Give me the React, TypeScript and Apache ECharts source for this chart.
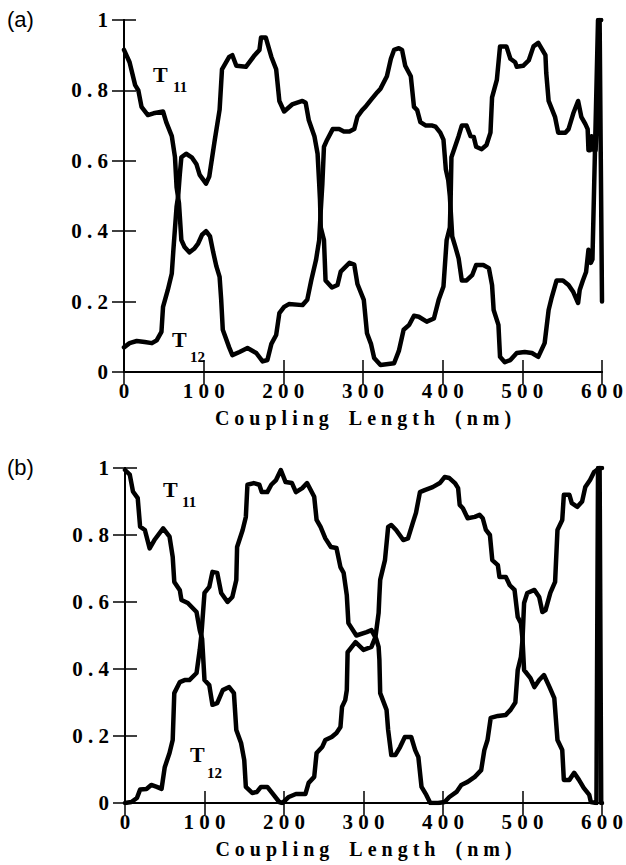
import React, { useEffect, useRef } from "react";
import * as echarts from "echarts";

// ---------- data ----------
const xTicks = [0, 100, 200, 300, 400, 500, 600];
const yTicks = [0, 0.2, 0.4, 0.6, 0.8, 1];
const axisTitle = "Coupling Length (nm)";
const panelLabels = ["(a)", "(b)"];

// Panel (a) T11
const aT11X = [0, 7, 14, 18, 22, 30, 37, 49, 53, 60, 64, 66, 69, 72, 76, 82, 88, 93, 98, 103, 108, 112, 116, 120, 122, 124, 132, 136, 145, 155, 166, 174, 180, 185, 191, 195, 201, 207, 224, 230, 235, 241, 245, 247, 249, 251, 255, 262, 270, 276, 283, 289, 293, 299, 303, 310, 318, 322, 330, 335, 339, 345, 349, 353, 360, 364, 368, 372, 379, 387, 391, 397, 401, 404, 407, 409, 412, 416, 420, 424, 430, 437, 442, 451, 458, 462, 464, 470, 472, 478, 485, 493, 503, 512, 520, 528, 533, 537, 543, 551, 558, 564, 570, 572, 576, 580, 583, 586, 588, 595, 599];
const aT11Y = [0.915, 0.88, 0.815, 0.8, 0.753, 0.73, 0.735, 0.74, 0.71, 0.67, 0.61, 0.525, 0.48, 0.375, 0.355, 0.34, 0.35, 0.365, 0.39, 0.4, 0.385, 0.34, 0.3, 0.27, 0.205, 0.12, 0.07, 0.048, 0.057, 0.068, 0.054, 0.03, 0.034, 0.08, 0.105, 0.167, 0.185, 0.193, 0.19, 0.205, 0.26, 0.318, 0.375, 0.46, 0.535, 0.64, 0.66, 0.69, 0.69, 0.683, 0.683, 0.69, 0.725, 0.744, 0.753, 0.773, 0.795, 0.805, 0.84, 0.89, 0.915, 0.92, 0.915, 0.87, 0.84, 0.753, 0.744, 0.71, 0.7, 0.7, 0.697, 0.68, 0.66, 0.575, 0.545, 0.5, 0.385, 0.355, 0.323, 0.26, 0.26, 0.275, 0.304, 0.304, 0.295, 0.247, 0.176, 0.134, 0.043, 0.028, 0.034, 0.054, 0.057, 0.054, 0.043, 0.082, 0.176, 0.213, 0.26, 0.26, 0.247, 0.227, 0.196, 0.233, 0.26, 0.284, 0.347, 0.31, 0.32, 1.0, 1.0];

// Panel (a) T12
const aT12X = [0, 7, 16, 26, 35, 41, 47, 49, 55, 60, 62, 66, 68, 70, 72, 78, 85, 91, 95, 103, 107, 114, 120, 123, 132, 136, 141, 153, 164, 170, 172, 178, 185, 191, 195, 201, 211, 224, 228, 232, 239, 243, 245, 246, 247, 251, 253, 261, 268, 272, 283, 289, 293, 301, 305, 310, 314, 322, 339, 345, 351, 358, 364, 370, 380, 389, 395, 401, 405, 409, 410, 411, 420, 424, 430, 435, 439, 442, 449, 455, 460, 462, 468, 472, 480, 485, 491, 493, 501, 508, 514, 520, 529, 530, 533, 541, 545, 554, 558, 564, 570, 574, 579, 582, 583, 585, 587, 590, 592, 597, 600];
const aT12Y = [0.07, 0.082, 0.088, 0.085, 0.082, 0.09, 0.114, 0.185, 0.233, 0.28, 0.347, 0.47, 0.5, 0.56, 0.61, 0.62, 0.61, 0.59, 0.56, 0.535, 0.555, 0.66, 0.745, 0.86, 0.895, 0.9, 0.87, 0.867, 0.9, 0.915, 0.95, 0.95, 0.895, 0.86, 0.77, 0.74, 0.76, 0.77, 0.765, 0.715, 0.67, 0.62, 0.535, 0.49, 0.41, 0.375, 0.26, 0.24, 0.247, 0.285, 0.31, 0.305, 0.25, 0.205, 0.11, 0.08, 0.04, 0.02, 0.025, 0.06, 0.12, 0.134, 0.16, 0.157, 0.143, 0.152, 0.205, 0.243, 0.375, 0.41, 0.49, 0.61, 0.67, 0.7, 0.7, 0.67, 0.668, 0.64, 0.633, 0.645, 0.68, 0.78, 0.83, 0.925, 0.925, 0.89, 0.88, 0.867, 0.87, 0.885, 0.925, 0.935, 0.9, 0.85, 0.77, 0.725, 0.68, 0.68, 0.69, 0.735, 0.77, 0.725, 0.705, 0.69, 0.63, 0.63, 0.67, 0.63, 0.63, 1.0, 0.2];

// Panel (b) T11
const bT11X = [0, 6, 10, 16, 19, 25, 31, 37, 48, 56, 60, 62, 69, 71, 79, 90, 94, 97, 100, 106, 110, 116, 123, 131, 137, 140, 146, 150, 152, 160, 166, 171, 179, 185, 194, 198, 206, 215, 227, 231, 238, 241, 248, 252, 260, 266, 271, 273, 277, 279, 280, 290, 300, 310, 315, 319, 320, 321, 327, 331, 335, 341, 350, 356, 362, 366, 371, 377, 387, 396, 402, 408, 415, 419, 421, 425, 431, 440, 446, 450, 454, 459, 462, 469, 471, 479, 484, 490, 494, 498, 500, 502, 510, 515, 521, 527, 534, 540, 544, 550, 552, 559, 565, 571, 577, 584, 586, 593, 595, 600];
const bT11Y = [0.994, 0.98, 0.93, 0.91, 0.825, 0.815, 0.76, 0.785, 0.82, 0.795, 0.735, 0.66, 0.635, 0.606, 0.597, 0.57, 0.516, 0.49, 0.367, 0.352, 0.293, 0.298, 0.337, 0.346, 0.328, 0.218, 0.179, 0.128, 0.048, 0.03, 0.033, 0.048, 0.048, 0.03, 0.003, 0.0, 0.018, 0.027, 0.027, 0.06, 0.078, 0.149, 0.167, 0.188, 0.197, 0.209, 0.227, 0.287, 0.307, 0.337, 0.45, 0.48, 0.457, 0.466, 0.495, 0.567, 0.62, 0.666, 0.725, 0.824, 0.83, 0.815, 0.785, 0.79, 0.836, 0.866, 0.928, 0.934, 0.943, 0.955, 0.973, 0.97, 0.955, 0.94, 0.89, 0.88, 0.85, 0.854, 0.86, 0.85, 0.815, 0.8, 0.725, 0.71, 0.675, 0.675, 0.65, 0.636, 0.555, 0.537, 0.49, 0.397, 0.373, 0.346, 0.367, 0.382, 0.346, 0.313, 0.188, 0.158, 0.069, 0.069, 0.09, 0.069, 0.045, 0.024, 0.003, 0.0, 1.0, 1.0];

// Panel (b) T12
const bT12X = [0, 8, 15, 19, 27, 33, 40, 46, 50, 56, 60, 62, 69, 75, 81, 90, 94, 96, 100, 106, 110, 116, 121, 129, 135, 140, 141, 148, 152, 154, 162, 169, 172, 179, 184, 190, 196, 202, 210, 215, 223, 229, 238, 241, 246, 252, 259, 266, 271, 275, 279, 281, 291, 304, 310, 316, 319, 320, 321, 329, 331, 335, 340, 346, 352, 360, 365, 369, 373, 379, 384, 394, 402, 408, 417, 423, 431, 440, 448, 452, 456, 460, 469, 479, 485, 491, 494, 498, 500, 502, 506, 515, 521, 525, 529, 535, 541, 544, 550, 552, 559, 562, 569, 575, 579, 585, 590, 597, 599, 600];
const bT12Y = [0.0, 0.003, 0.015, 0.04, 0.042, 0.054, 0.048, 0.042, 0.107, 0.149, 0.188, 0.328, 0.361, 0.367, 0.367, 0.388, 0.457, 0.5, 0.627, 0.645, 0.69, 0.687, 0.627, 0.6, 0.615, 0.666, 0.764, 0.815, 0.854, 0.95, 0.955, 0.95, 0.928, 0.928, 0.95, 0.964, 0.994, 0.958, 0.955, 0.928, 0.94, 0.955, 0.914, 0.845, 0.824, 0.79, 0.764, 0.761, 0.704, 0.687, 0.62, 0.537, 0.5, 0.51, 0.516, 0.49, 0.466, 0.427, 0.328, 0.278, 0.218, 0.143, 0.143, 0.167, 0.197, 0.197, 0.158, 0.137, 0.048, 0.024, 0.0, 0.0, 0.003, 0.018, 0.033, 0.054, 0.063, 0.078, 0.098, 0.158, 0.188, 0.254, 0.26, 0.263, 0.278, 0.3, 0.397, 0.436, 0.487, 0.597, 0.627, 0.636, 0.615, 0.57, 0.576, 0.627, 0.66, 0.815, 0.845, 0.92, 0.92, 0.895, 0.884, 0.9, 0.943, 0.964, 0.988, 1.0, 0.0, 0.0];

const zip = (xs: number[], ys: number[]) => xs.map((x, i) => [x, ys[i]]);
const spaced = (s: string) => s.split("").map((c) => (c === " " ? "\u00a0\u00a0" : c)).join("\u00a0");

const SERIF = "Liberation Serif";
const SANS = "Liberation Sans";

const grids = [
  { left: 124, right: 21, top: 20, height: 352 },
  { left: 125, right: 21, top: 468, height: 335 },
];

export default function App() {
  const ref = useRef<HTMLDivElement>(null);
  useEffect(() => {
    if (!ref.current) return;
    const chart = echarts.init(ref.current, undefined, { renderer: "svg" });
    const xAxes: any[] = [];
    const yAxes: any[] = [];
    grids.forEach((_, gi) => {
      const tick = { show: true, inside: true, length: 12, lineStyle: { color: "#000", width: 1.5 } };
      const line = { show: true, lineStyle: { color: "#000", width: 2 } };
      xAxes.push({
        type: "value", gridIndex: gi, position: "bottom", min: xTicks[0], max: xTicks[xTicks.length - 1], interval: 100,
        axisLine: line, axisTick: tick, splitLine: { show: false },
        axisLabel: { show: true, margin: 8, color: "#000", fontFamily: SERIF, fontWeight: "bold", fontSize: 21, formatter: (v: number) => spaced(String(v)) },
        name: spaced(axisTitle), nameLocation: "middle", nameGap: 36,
        nameTextStyle: { color: "#000", fontFamily: SERIF, fontWeight: "bold", fontSize: 20 },
      });
      xAxes.push({
        type: "value", gridIndex: gi, position: "top", min: xTicks[0], max: xTicks[xTicks.length - 1], interval: 100,
        axisLine: line, axisTick: tick, splitLine: { show: false }, axisLabel: { show: false },
      });
      yAxes.push({
        type: "value", gridIndex: gi, position: "left", min: yTicks[0], max: yTicks[yTicks.length - 1], interval: 0.2,
        axisLine: line, axisTick: tick, splitLine: { show: false },
        axisLabel: { show: true, margin: 16, color: "#000", fontFamily: SERIF, fontWeight: "bold", fontSize: 21, formatter: (v: number) => spaced(String(Number(v.toFixed(1)))) },
      });
      yAxes.push({
        type: "value", gridIndex: gi, position: "right", min: yTicks[0], max: yTicks[yTicks.length - 1], interval: 0.2,
        axisLine: line, axisTick: tick, splitLine: { show: false }, axisLabel: { show: false },
      });
    });
    const mk = (data: number[][], gi: number) => ({
      type: "line", data, xAxisIndex: gi * 2, yAxisIndex: gi * 2, showSymbol: false, symbol: "none",
      lineStyle: { color: "#000", width: 4.5, join: "round", cap: "round" }, clip: true,
    });
    const tText = (x: number, y: number, sub: string, sx: number, sy: number) => [
      { type: "text", x, y, style: { text: "T", fill: "#000", font: `bold 22px ${SERIF}`, textVerticalAlign: "top" } },
      { type: "text", x: sx, y: sy, style: { text: sub, fill: "#000", font: `bold 15px ${SERIF}`, textVerticalAlign: "top" } },
    ];
    chart.setOption({
      animation: false,
      backgroundColor: "#fff",
      grid: grids,
      xAxis: xAxes,
      yAxis: yAxes,
      series: [mk(zip(aT11X, aT11Y), 0), mk(zip(aT12X, aT12Y), 0), mk(zip(bT11X, bT11Y), 1), mk(zip(bT12X, bT12Y), 1)],
      graphic: [
        { type: "text", x: 7, y: 8, style: { text: panelLabels[0], fill: "#000", font: `22px ${SANS}`, textVerticalAlign: "top" } },
        { type: "text", x: 7, y: 456, style: { text: panelLabels[1], fill: "#000", font: `22px ${SANS}`, textVerticalAlign: "top" } },
        ...tText(153, 63, "11", 173, 79),
        ...tText(172, 328, "12", 190, 349),
        ...tText(163, 478, "11", 182, 494),
        ...tText(190, 743, "12", 207, 765),
      ],
    });
    return () => chart.dispose();
  }, []);
  return <div ref={ref} style={{ position: "absolute", left: 0, top: 0, width: 626, height: 865, background: "#fff" }} />;
}
